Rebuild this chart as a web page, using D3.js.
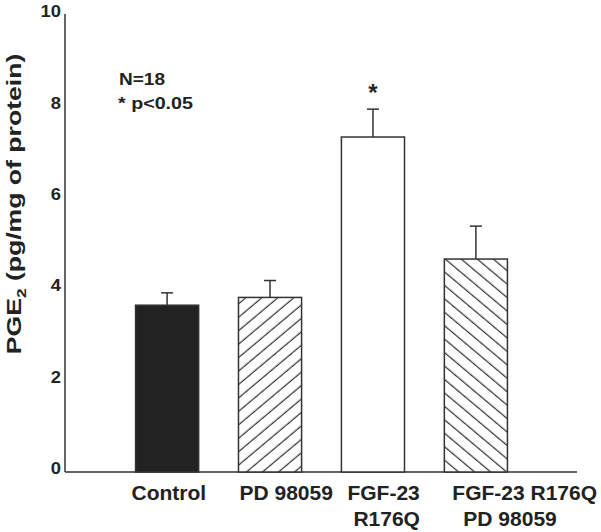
<!DOCTYPE html>
<html>
<head>
<meta charset="utf-8">
<script src="https://cdn.jsdelivr.net/npm/d3@7"></script>
<style>
  html, body { margin: 0; padding: 0; background: #fff; }
  svg { display: block; font-family: "Liberation Sans", Arial, Helvetica, sans-serif; font-weight: bold; }
</style>
</head>
<body>
<svg id="chart" width="601" height="532"></svg>
<script>
// ---- data ----
const categories = ["Control", "PD 98059", "FGF-23 R176Q", "FGF-23 R176Q + PD 98059"];
const labelLines = [["Control"], ["PD 98059"], ["FGF-23", "R176Q"], ["FGF-23 R176Q", "PD 98059"]];
const means = [3.65, 3.82, 7.33, 4.66];
const errors = [0.27, 0.37, 0.61, 0.72];
const fills = ["solid", "hatchUp", "empty", "hatchDown"];
const significant = [false, false, true, false];
const yTicks = [0, 2, 4, 6, 8, 10];
const notes = ["N=18", "* p<0.05"];

// ---- layout ----
const svg = d3.select("#chart");
const ink = "#222";
const y = d3.scaleLinear().domain([0, 10]).range([472, 15]);
const x = d3.scaleBand().domain(categories).range([116, 527]).paddingInner(0.387).paddingOuter(0.19);

const defs = svg.append("defs");
function hatch(id, angle) {
  const p = defs.append("pattern").attr("id", id)
    .attr("patternUnits", "userSpaceOnUse").attr("width", 10).attr("height", 10.3)
    .attr("patternTransform", `rotate(${angle})`);
  p.append("rect").attr("width", 10).attr("height", 10.3).attr("fill", "#fff");
  p.append("line").attr("x1", 0).attr("x2", 10).attr("y1", 5).attr("y2", 5)
    .attr("stroke", "#333").attr("stroke-width", 1.2);
}
hatch("hatchUp", -40);
hatch("hatchDown", 40);
const fillFor = f => f === "solid" ? "#222" : f === "empty" ? "#fff" : `url(#${f})`;

// axes
const yAxis = d3.axisLeft(y).tickValues(yTicks).tickSize(0).tickPadding(4).tickFormat(d3.format("d"));
const gy = svg.append("g").attr("transform", "translate(65,0)").call(yAxis);
gy.select(".domain").attr("stroke", "#333").attr("stroke-width", 1.5).attr("d", `M0,${y(10) - 1}V${y(0)}`);
gy.selectAll("text").attr("font-size", 16.5).attr("font-weight", "bold").attr("fill", ink)
  .attr("font-family", "Liberation Sans, Arial, sans-serif").attr("dy", "0.1em")
  .attr("textLength", d => String(d).length * 10.2).attr("lengthAdjust", "spacingAndGlyphs");

svg.append("line").attr("x1", 65).attr("x2", 577).attr("y1", y(0)).attr("y2", y(0))
  .attr("stroke", "#333").attr("stroke-width", 1.5);

// bars
svg.append("g").selectAll("rect").data(categories).join("rect")
  .attr("x", d => x(d)).attr("width", x.bandwidth())
  .attr("y", (d, i) => y(means[i])).attr("height", (d, i) => y(0) - y(means[i]))
  .attr("fill", (d, i) => fillFor(fills[i]))
  .attr("stroke", "#333").attr("stroke-width", 1.5);

// error bars
const eg = svg.append("g").attr("stroke", "#333").attr("stroke-width", 1.5);
categories.forEach((c, i) => {
  const cx = x(c) + x.bandwidth() / 2;
  eg.append("line").attr("x1", cx).attr("x2", cx).attr("y1", y(means[i])).attr("y2", y(means[i] + errors[i]));
  eg.append("line").attr("x1", cx - 6).attr("x2", cx + 6).attr("y1", y(means[i] + errors[i])).attr("y2", y(means[i] + errors[i]));
  if (significant[i]) {
    svg.append("text").attr("x", cx).attr("y", y(means[i] + errors[i]) - 8)
      .attr("text-anchor", "middle").attr("font-size", 24).attr("fill", ink).text("*");
  }
});

// category labels
const labelDx = [[-4], [1], [6, 12], [8, 19]];
const lg = svg.append("g").attr("font-size", 21).attr("fill", ink);
labelLines.forEach((lines, i) => {
  lines.forEach((t, j) => {
    lg.append("text").attr("x", x(categories[i]) + labelDx[i][j]).attr("y", 500 + j * 25.5)
      .attr("text-anchor", "start").text(t);
  });
});

// notes
svg.append("text").attr("x", 119).attr("y", 85).attr("font-size", 16.5).attr("fill", ink)
  .attr("textLength", 46).attr("lengthAdjust", "spacingAndGlyphs").text(notes[0]);
svg.append("text").attr("x", 118).attr("y", 109).attr("font-size", 16.5).attr("fill", ink)
  .attr("textLength", 75).attr("lengthAdjust", "spacingAndGlyphs").text(notes[1]);

// y label
const yl = svg.append("text").attr("transform", "translate(21,204) rotate(-90) scale(1.33,1)")
  .attr("text-anchor", "middle").attr("font-size", 20).attr("fill", ink);
yl.append("tspan").text("PGE");
yl.append("tspan").attr("font-size", 13).attr("dy", 5).text("2");
yl.append("tspan").attr("dy", -5).text(" (pg/mg of protein)");
</script>
</body>
</html>
